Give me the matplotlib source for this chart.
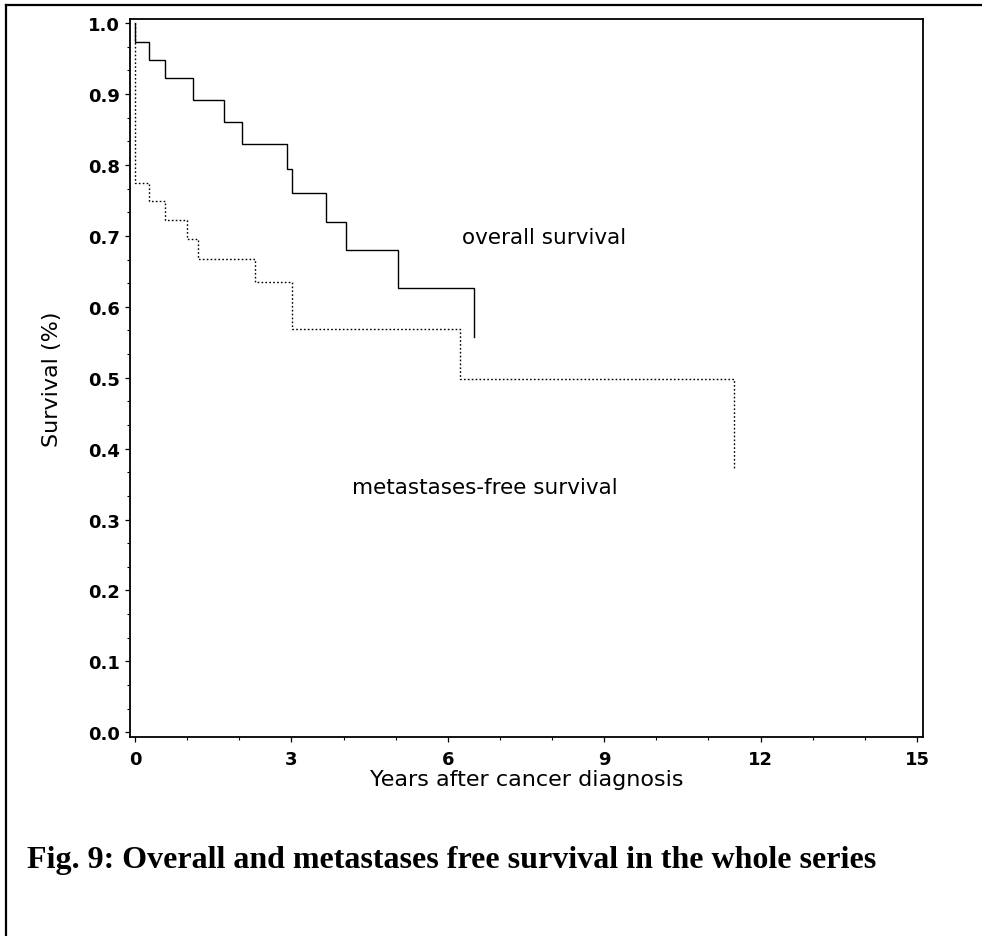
import matplotlib
matplotlib.use("Agg")
import matplotlib.pyplot as plt
from matplotlib.lines import Line2D
from matplotlib.ticker import MultipleLocator, FormatStrFormatter

# Overall survival (solid step curve): time (years) and survival after each step
os_time = [0.0, 0.0, 0.275, 0.575, 1.107, 1.707, 2.05, 2.91, 3.02, 3.66, 4.05, 5.05, 6.51]
os_surv = [1.0, 0.974, 0.948, 0.922, 0.892, 0.861, 0.829, 0.795, 0.760, 0.720, 0.680, 0.627, 0.558]

# Metastases-free survival (dotted step curve)
mfs_time = [0.0, 0.0, 0.27, 0.58, 1.0, 1.2, 2.30, 3.01, 6.23, 11.50]
mfs_surv = [1.0, 0.775, 0.749, 0.723, 0.696, 0.667, 0.635, 0.569, 0.498, 0.372]

x_ticks = [0, 3, 6, 9, 12, 15]
y_ticks = [0.0, 0.1, 0.2, 0.3, 0.4, 0.5, 0.6, 0.7, 0.8, 0.9, 1.0]

x_label = "Years after cancer diagnosis"
y_label = "Survival (%)"
os_label = "overall survival"
mfs_label = "metastases-free survival"
caption = "Fig. 9: Overall and metastases free survival in the whole series"

fig = plt.figure(figsize=(9.82, 9.37), dpi=100)
ax = fig.add_axes([130 / 982, 1 - 738 / 937, (923 - 130) / 982, (738 - 20) / 937])

ax.step(os_time, os_surv, where="post", color="black", lw=1.0, solid_joinstyle="miter")
ax.step(mfs_time, mfs_surv, where="post", color="black", lw=1.0, linestyle=(0, (1.2, 1.6)))

ax.set_xlim(-0.096, 15.116)
ax.set_ylim(-0.0066, 1.0059)
ax.set_xticks(x_ticks)
ax.set_yticks(y_ticks)
ax.xaxis.set_minor_locator(MultipleLocator(1))
ax.yaxis.set_minor_locator(MultipleLocator(0.1 / 3))
ax.yaxis.set_major_formatter(FormatStrFormatter("%.1f"))

for s in ax.spines.values():
    s.set_linewidth(1.3)

ax.tick_params(which="major", direction="out", length=3.8, width=0.9, labelsize=13)
ax.tick_params(which="minor", direction="out", length=2.0, width=0.8)
ax.tick_params(axis="x", which="major", pad=5.5)
ax.tick_params(axis="y", which="major", pad=3.5)
for lab in ax.get_xticklabels() + ax.get_yticklabels():
    lab.set_fontweight("bold")
    lab.set_family("DejaVu Sans")

ax.set_xlabel(x_label, fontsize=16, va="center")
ax.xaxis.set_label_coords(0.5, (738 - 780) / 718)
ax.set_ylabel(y_label, fontsize=16, va="center")
ax.yaxis.set_label_coords((52 - 130) / 793, 0.5)

ax.text(6.27, 0.698, os_label, fontsize=15.5, va="center", ha="left")
ax.text(4.16, 0.346, mfs_label, fontsize=15.5, va="center", ha="left")

fig.text(27 / 982, 1 - 868 / 937, caption, family="Liberation Serif",
         fontweight="bold", fontsize=23, va="baseline", ha="left")

# page frame lines (top and left)
fig.add_artist(Line2D([6 / 982, 1.0], [1 - 6 / 937, 1 - 6 / 937], color="black", lw=1.6,
                      transform=fig.transFigure))
fig.add_artist(Line2D([6 / 982, 6 / 982], [0.0, 1 - 6 / 937], color="black", lw=1.6,
                      transform=fig.transFigure))

fig.savefig("out.png", dpi=100)
